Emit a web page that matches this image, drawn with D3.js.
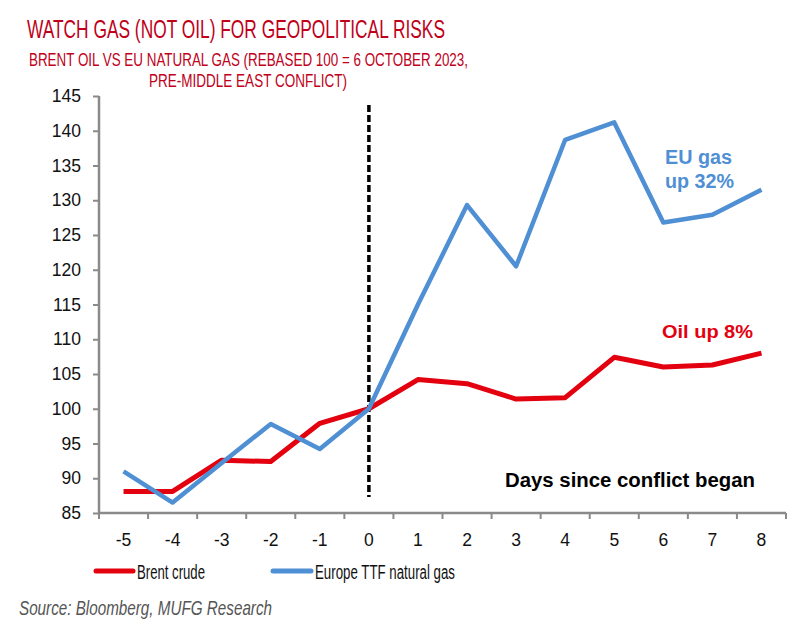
<!DOCTYPE html>
<html><head><meta charset="utf-8">
<script src="https://cdn.jsdelivr.net/npm/d3@7"></script>
<style>body{margin:0;background:#fff}svg{display:block}text{font-family:"Liberation Sans",Arial,sans-serif}</style>
</head><body><svg id="c" width="800" height="628"></svg>
<script>
const days = [-5,-4,-3,-2,-1,0,1,2,3,4,5,6,7,8];
const brent = [88.1,88.1,92.6,92.4,97.9,100,104.2,103.6,101.4,101.6,107.4,106.0,106.3,108.0];
const ttf = [91.0,86.5,92.2,97.8,94.2,100,115.0,129.3,120.5,138.7,141.2,126.8,127.9,131.5];
const yTicks = [85,90,95,100,105,110,115,120,125,130,135,140,145];

const svg = d3.select("#c");
const red = "#e3000f", blue = "#4f8fd4", title = "#c0001a", grey = "#8a8a8a";
const x = d3.scaleBand().domain(days).range([99, 786]);
const y = d3.scaleLinear().domain([85,145]).range([513, 96]);
const cx = d => x(d) + x.bandwidth()/2;

// titles
svg.append("text").attr("x",27).attr("y",38).attr("font-size",26.5).attr("fill",title)
  .attr("textLength",418).attr("lengthAdjust","spacingAndGlyphs").text("WATCH GAS (NOT OIL) FOR GEOPOLITICAL RISKS");
svg.append("text").attr("x",29).attr("y",66).attr("font-size",18.5).attr("fill",title)
  .attr("textLength",439).attr("lengthAdjust","spacingAndGlyphs").text("BRENT OIL VS EU NATURAL GAS (REBASED 100 = 6 OCTOBER 2023,");
svg.append("text").attr("x",149).attr("y",87).attr("font-size",18.5).attr("fill",title)
  .attr("textLength",198).attr("lengthAdjust","spacingAndGlyphs").text("PRE-MIDDLE EAST CONFLICT)");

// axes
const ya = svg.append("g").attr("transform","translate(99,0)")
  .call(d3.axisLeft(y).tickValues(yTicks).tickSize(6).tickSizeOuter(0).tickPadding(12));
const xa = svg.append("g").attr("transform","translate(0,513)")
  .call(d3.axisBottom(x).tickSize(0).tickPadding(21));
xa.selectAll(".tick line").remove();
// boundary ticks for x
xa.selectAll(".bt").data(d3.range(days.length+1)).join("line")
  .attr("x1",i=>99+i*x.step()).attr("x2",i=>99+i*x.step()).attr("y1",0).attr("y2",6)
  .attr("stroke",grey).attr("stroke-width",2);
[ya,xa].forEach(a=>{
  a.select(".domain").attr("stroke",grey).attr("stroke-width",2.5);
  a.selectAll(".tick line").attr("stroke",grey).attr("stroke-width",2);
  a.selectAll("text").attr("font-size",17.5).attr("fill","#111").attr("font-family","Liberation Sans, Arial, sans-serif");
});
ya.select(".domain").attr("d","M0,96V513");
xa.select(".domain").attr("d","M99,0H786");

// dashed vertical line at day 0
svg.append("line").attr("x1",cx(0)).attr("x2",cx(0)).attr("y1",105).attr("y2",497)
  .attr("stroke","#000").attr("stroke-width",3.5).attr("stroke-dasharray","7,3");

const line = d3.line().x((d,i)=>cx(days[i])).y(d=>y(d));
svg.append("path").datum(brent).attr("d",line).attr("fill","none").attr("stroke",red).attr("stroke-width",5).attr("stroke-linejoin","round");
svg.append("path").datum(ttf).attr("d",line).attr("fill","none").attr("stroke",blue).attr("stroke-width",4.5).attr("stroke-linejoin","round");

// annotations
const bold = (t,xx,yy,w,c,fs)=>svg.append("text").attr("x",xx).attr("y",yy).attr("font-size",fs).attr("font-weight","bold")
  .attr("fill",c).attr("textLength",w).attr("lengthAdjust","spacingAndGlyphs").text(t);
bold("EU gas",665,164,67,blue,19.5);
bold("up 32%",665,188,69,blue,19.5);
bold("Oil up 8%",662,338,91,red,19);
bold("Days since conflict began",505,487,250,"#000",19.5);

// legend
svg.append("line").attr("x1",96).attr("x2",133).attr("y1",571).attr("y2",571).attr("stroke",red).attr("stroke-width",5).attr("stroke-linecap","round");
svg.append("text").attr("x",137).attr("y",579).attr("font-size",19.5).attr("fill","#111")
  .attr("textLength",68).attr("lengthAdjust","spacingAndGlyphs").text("Brent crude");
svg.append("line").attr("x1",273).attr("x2",311).attr("y1",571).attr("y2",571).attr("stroke",blue).attr("stroke-width",5).attr("stroke-linecap","round");
svg.append("text").attr("x",315).attr("y",579).attr("font-size",19.5).attr("fill","#111")
  .attr("textLength",140).attr("lengthAdjust","spacingAndGlyphs").text("Europe TTF natural gas");

// source
svg.append("text").attr("x",19).attr("y",615).attr("font-size",21).attr("font-style","italic").attr("fill","#555")
  .attr("textLength",253).attr("lengthAdjust","spacingAndGlyphs").text("Source: Bloomberg, MUFG Research");
</script></body></html>
